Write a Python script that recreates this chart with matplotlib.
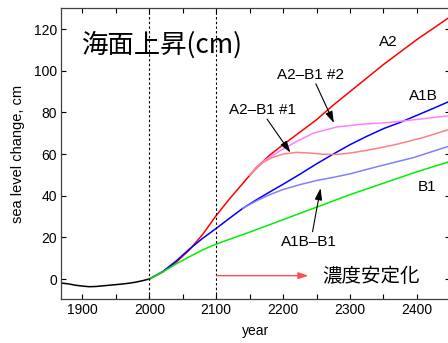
import matplotlib
matplotlib.use('Agg')
import matplotlib.pyplot as plt
from matplotlib.ticker import MultipleLocator

plt.rcParams['font.family'] = ['Liberation Sans', 'Noto Sans CJK JP', 'DejaVu Sans']

# observed record
hist_years = [1870, 1880, 1890, 1900, 1910, 1920, 1930, 1940, 1950, 1960, 1970, 1980, 1990, 2000]
hist_vals = [-2.0, -2.4, -3.0, -3.4, -3.7, -3.6, -3.3, -3.0, -2.7, -2.4, -2.0, -1.5, -0.8, 0.0]

# scenario runs
a2_years = [2000, 2020, 2040, 2060, 2080, 2100, 2120, 2140, 2160, 2180, 2200, 2225, 2250, 2275,
            2300, 2325, 2350, 2375, 2400, 2425, 2450]
a2_vals = [0, 3.3, 8.0, 14.0, 21.5, 30.5, 38.5, 46.0, 53.5, 59.5, 64.5, 70.5, 76.5, 83.5,
           90.0, 96.5, 103.0, 109.0, 115.0, 120.5, 126.0]

a1b_years = [2000, 2020, 2040, 2060, 2080, 2100, 2120, 2140, 2160, 2180, 2200, 2225, 2250, 2275,
             2300, 2325, 2350, 2375, 2400, 2425, 2450]
a1b_vals = [0, 3.6, 8.6, 14.4, 19.6, 24.3, 29.2, 34.0, 38.0, 41.8, 45.5, 50.3, 55.3, 60.0,
            64.5, 68.5, 72.2, 75.2, 78.6, 82.0, 85.5]

b1_years = [2000, 2020, 2040, 2060, 2080, 2100, 2150, 2200, 2250, 2300, 2350, 2400, 2450]
b1_vals = [0, 3.4, 7.2, 10.7, 14.0, 16.8, 22.5, 28.5, 34.5, 40.5, 46.0, 51.5, 56.5]

a2b1_2_years = [2150, 2170, 2195, 2220, 2245, 2280, 2320, 2360, 2405, 2450]
a2b1_2_vals = [50.0, 56.5, 61.5, 66.0, 70.0, 73.0, 74.4, 75.2, 76.8, 78.5]

a2b1_1_years = [2150, 2170, 2185, 2200, 2220, 2240, 2260, 2280, 2300, 2320, 2345, 2370, 2410, 2450]
a2b1_1_vals = [50.0, 56.0, 58.5, 60.0, 60.8, 60.5, 59.9, 59.8, 60.5, 61.5, 63.0, 64.7, 68.0, 72.0]

a1bb1_years = [2140, 2160, 2180, 2200, 2225, 2250, 2275, 2300, 2345, 2395, 2450]
a1bb1_vals = [34.0, 37.5, 40.5, 43.0, 45.3, 47.3, 48.8, 50.5, 54.3, 58.3, 64.0]

fig = plt.figure(figsize=(4.48, 3.43), dpi=100)
ax = fig.add_axes([0.1362, 0.1283, 0.869, 0.8475])

lw = 1.1
ax.plot(hist_years, hist_vals, color='black', lw=lw)
ax.plot(a2_years, a2_vals, color='#ff0000', lw=lw)
ax.plot(a1b_years, a1b_vals, color='#0000ff', lw=lw)
ax.plot(b1_years, b1_vals, color='#00f000', lw=lw)
ax.plot(a2b1_2_years, a2b1_2_vals, color='#ff80ff', lw=lw)
ax.plot(a2b1_1_years, a2b1_1_vals, color='#ff8080', lw=lw)
ax.plot(a1bb1_years, a1bb1_vals, color='#8080ff', lw=lw)

for yr in (2000, 2100):
    ax.axvline(yr, color='black', lw=0.8, ls=(0, (2.2, 2)))

ax.set_xlim(1868, 2450)
ax.set_ylim(-9.6, 130)
ax.xaxis.set_major_locator(MultipleLocator(100))
ax.xaxis.set_minor_locator(MultipleLocator(50))
ax.set_yticks(range(0, 121, 20))
ax.tick_params(which='both', direction='in', top=True, right=True, length=3.5, width=0.8)
ax.tick_params(labelsize=10, pad=3)
for s in ax.spines.values():
    s.set_linewidth(0.9)
    s.set_color('#404040')

ax.set_xlabel('year', fontsize=10, labelpad=5)
ax.set_ylabel('sea level change, cm', fontsize=10.5, labelpad=6)

# labels
ax.text(1899, 112.6, '海面上昇(cm)', fontsize=19, va='center', ha='left',
        family=['Noto Sans CJK JP'])
ax.text(2357, 114, 'A2', fontsize=11, ha='center', va='center')
ax.text(2241, 98, 'A2–B1 #2', fontsize=11, ha='center', va='center')
ax.text(2169, 81, 'A2–B1 #1', fontsize=11, ha='center', va='center')
ax.text(2410, 88, 'A1B', fontsize=11, ha='center', va='center')
ax.text(2415, 44, 'B1', fontsize=11, ha='center', va='center')
ax.text(2239, 17.9, 'A1B–B1', fontsize=11, ha='center', va='center')
ax.text(2258, 1.4, '濃度安定化', fontsize=14, ha='left', va='center',
        family=['Noto Sans CJK JP'])

arrow = dict(arrowstyle='-|>,head_length=0.7,head_width=0.22', color='black', lw=0.8,
             shrinkA=0, shrinkB=0)
ax.annotate('', xy=(2276, 74.9), xytext=(2249, 93.7), arrowprops=arrow)
ax.annotate('', xy=(2211, 60.7), xytext=(2176, 76.8), arrowprops=arrow)
ax.annotate('', xy=(2256, 43.6), xytext=(2244, 22.7), arrowprops=arrow)
red_arrow = dict(arrowstyle='-|>,head_length=0.6,head_width=0.2', color='#ff5050', lw=1.0,
                 shrinkA=0, shrinkB=0)
ax.annotate('', xy=(2238, 1.6), xytext=(2101, 1.6), arrowprops=red_arrow)

fig.savefig('out.png', dpi=100)
plt.close(fig)
